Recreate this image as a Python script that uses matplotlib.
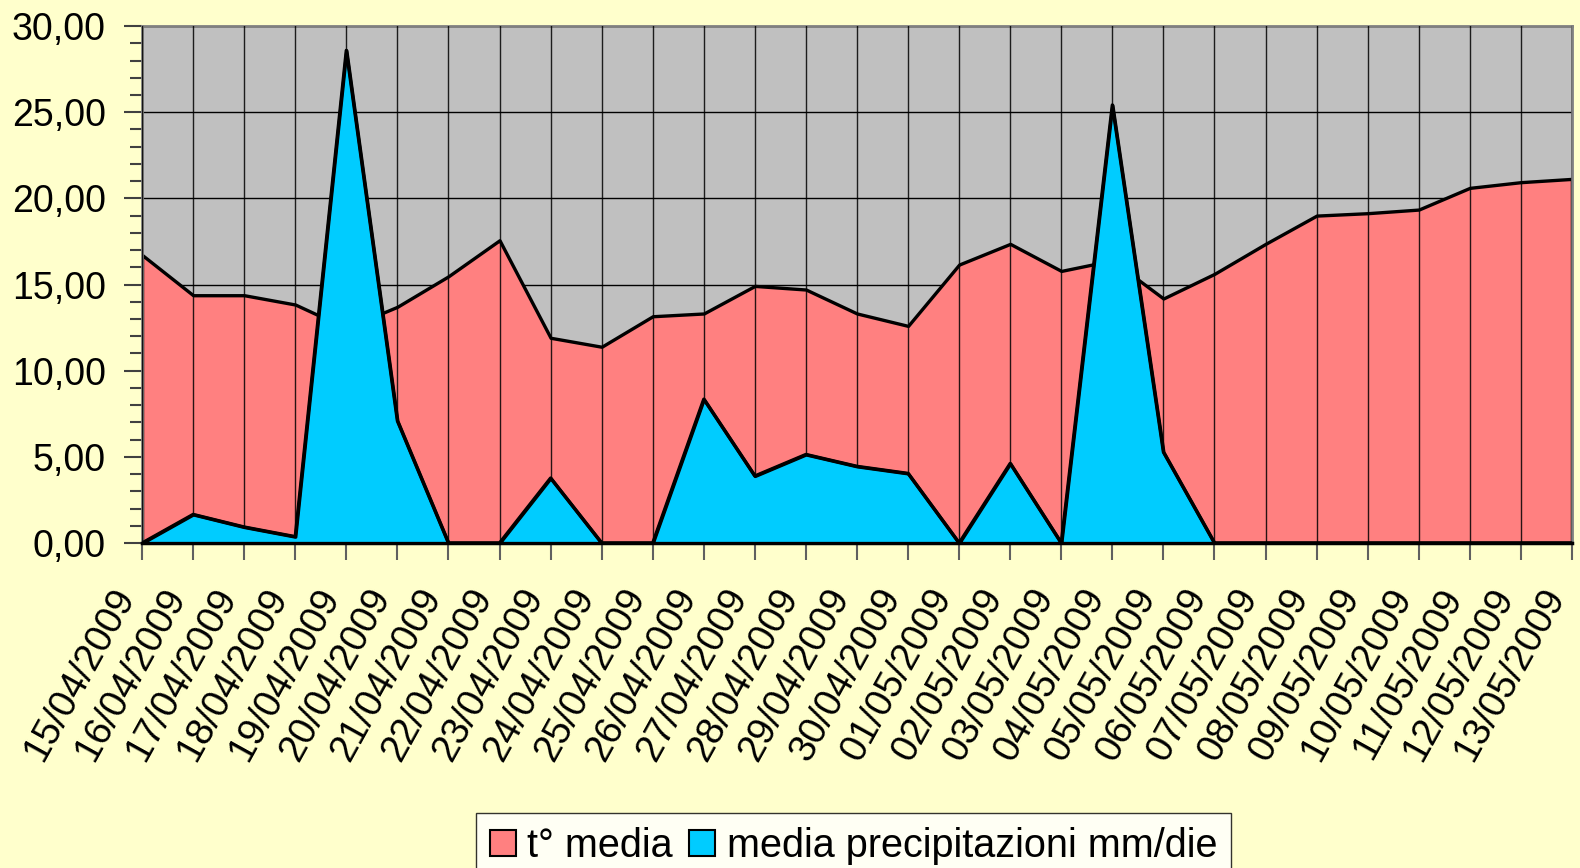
import numpy as np
import matplotlib
matplotlib.use("Agg")
import matplotlib.pyplot as plt
from matplotlib.patches import Patch

# daily data
dates = ["15/04/2009", "16/04/2009", "17/04/2009", "18/04/2009", "19/04/2009",
         "20/04/2009", "21/04/2009", "22/04/2009", "23/04/2009", "24/04/2009",
         "25/04/2009", "26/04/2009", "27/04/2009", "28/04/2009", "29/04/2009",
         "30/04/2009", "01/05/2009", "02/05/2009", "03/05/2009", "04/05/2009",
         "05/05/2009", "06/05/2009", "07/05/2009", "08/05/2009", "09/05/2009",
         "10/05/2009", "11/05/2009", "12/05/2009", "13/05/2009"]

t_media = [16.72, 14.38, 14.38, 13.84, 12.47, 13.71, 15.48, 17.57, 11.91, 11.39,
           13.16, 13.32, 14.92, 14.71, 13.32, 12.60, 16.16, 17.36, 15.79, 16.40,
           14.19, 15.62, 17.36, 19.00, 19.14, 19.35, 20.61, 20.94, 21.13]

precip = [0.0, 1.66, 0.93, 0.37, 28.59, 7.09, 0.0, 0.0, 3.77, 0.0,
          0.0, 8.35, 3.89, 5.14, 4.45, 4.04, 0.0, 4.62, 0.0, 25.42,
          5.28, 0.0, 0.0, 0.0, 0.0, 0.0, 0.0, 0.0, 0.0]

y_ticks = [0, 5, 10, 15, 20, 25, 30]
series_names = ["t° media", "media precipitazioni mm/die"]

BG = "#FFFFCC"
PLOT_BG = "#C0C0C0"
RED = "#FF8080"
BLUE = "#00CCFF"

plt.rcParams["font.family"] = ["Liberation Sans", "DejaVu Sans"]

fig = plt.figure(figsize=(15.8, 8.68), dpi=100, facecolor=BG)
ax = fig.add_axes([0.0899, 0.3744, 0.905, 0.5956], facecolor=PLOT_BG)

x = np.arange(len(dates))

# horizontal grid behind the areas
for v in y_ticks:
    ax.axhline(v, color="black", lw=1.0, zorder=1)

ax.fill_between(x, 0, t_media, facecolor=RED, edgecolor="black", lw=2.4, zorder=2)
ax.fill_between(x, 0, precip, facecolor=BLUE, edgecolor="black", lw=2.4, zorder=4)

# vertical lines drawn over the areas
for xi in x:
    ax.axvline(xi, color="black", lw=1.0, alpha=0.85, zorder=3)
ax.plot(x, precip, color="black", lw=2.4, zorder=5)

ax.set_xlim(0, len(dates) - 1)
ax.set_ylim(0, 30)

ax.set_yticks(y_ticks)
ax.set_yticklabels([("%.2f" % v).replace(".", ",") for v in y_ticks])
ax.set_yticks(np.arange(0, 31, 1), minor=True)
ax.tick_params(axis="y", which="major", length=13, width=1.5, color="#404040",
               labelsize=27, pad=13)
ax.tick_params(axis="y", which="minor", length=9, width=1.5, color="#404040")

ax.set_xticks(x)
ax.set_xticklabels(dates, rotation=61, ha="right", va="bottom",
                   rotation_mode="anchor", fontsize=27.5)
ax.tick_params(axis="x", which="major", length=12, width=1.5, color="#606060",
               pad=29)

for side in ["top", "right", "left"]:
    ax.spines[side].set_color("#808080")
    ax.spines[side].set_linewidth(2)
ax.spines["bottom"].set_color("black")
ax.spines["bottom"].set_linewidth(2.5)

handles = [Patch(facecolor=RED, edgecolor="black", lw=1.5),
           Patch(facecolor=BLUE, edgecolor="black", lw=1.5)]
leg = fig.legend(handles, series_names, loc="upper left",
                 bbox_to_anchor=(476 / 1580, 1 - 813 / 868), ncol=2,
                 fontsize=28.5, frameon=True, fancybox=False, edgecolor="black",
                 handlelength=0.65, handleheight=0.65, handletextpad=0.3,
                 columnspacing=0.4, borderpad=0.35, borderaxespad=0)
leg.get_frame().set_linewidth(1.0)
leg.get_frame().set_facecolor("white")

fig.savefig("out.png", dpi=100, facecolor=BG)
